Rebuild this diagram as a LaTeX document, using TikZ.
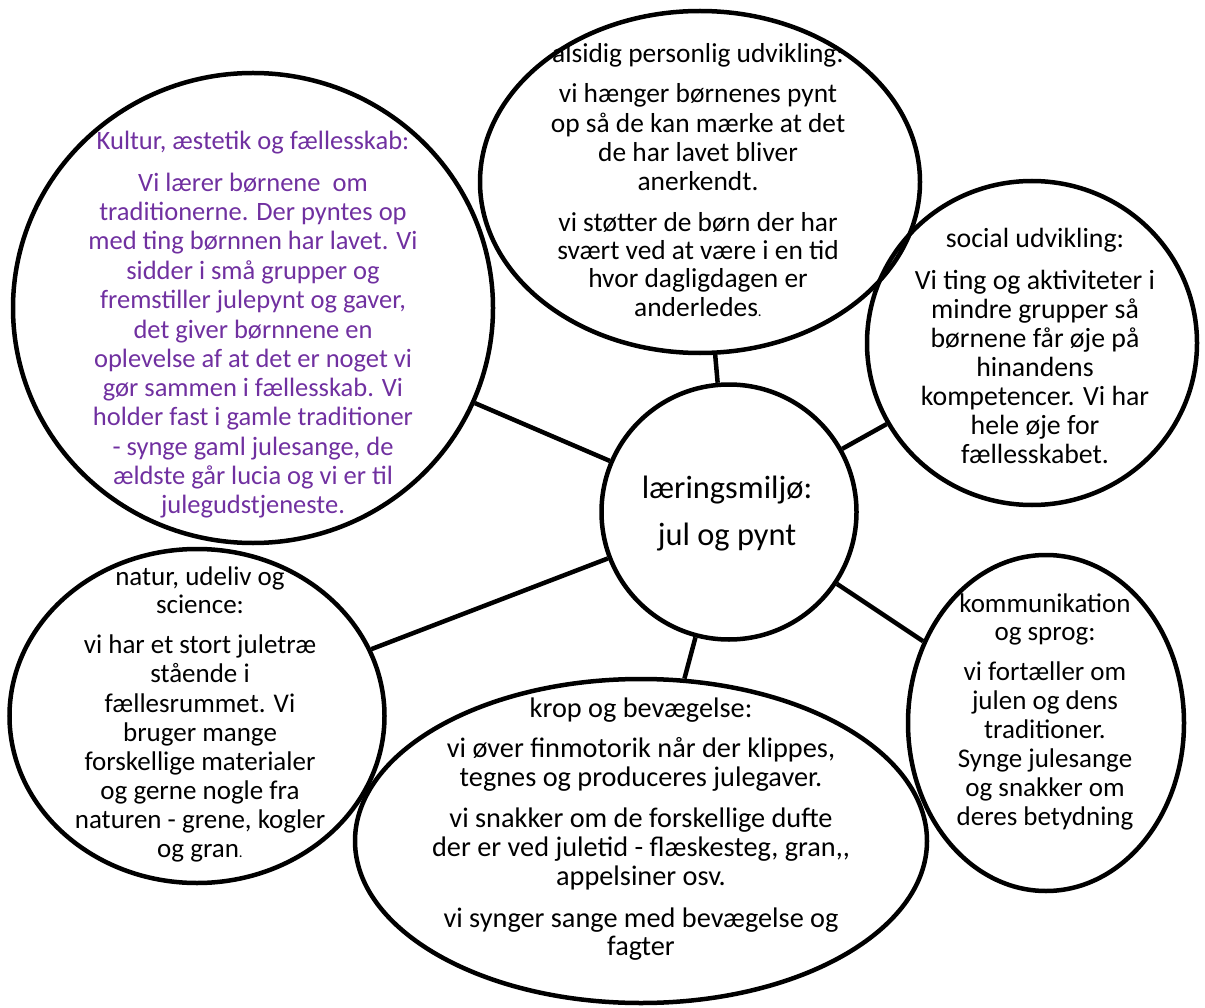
\documentclass[tikz,border=0pt]{standalone}
\usepackage{fontspec}
\setmainfont{Carlito}
\usetikzlibrary{shapes.geometric}
\definecolor{wordpurple}{RGB}{112,48,160}
\tikzset{
  bubble/.style={draw=black, line width=4.5pt, ellipse, inner sep=0pt},
  link/.style={draw=black, line width=4.5pt},
  body/.style={inner sep=0pt, anchor=base, font=\fontsize{#1}{29}\selectfont},
  body/.default=27,
  hub/.style={inner sep=0pt, anchor=base, font=\fontsize{32.4}{34}\selectfont},
}
\newcommand{\smalldot}{{\fontsize{15}{15}\selectfont .}}
\begin{document}
\begin{tikzpicture}[x=1pt,y=-1pt]
\useasboundingbox (0,0) rectangle (1205,1008);
% bubbles
\node[bubble, minimum width=255pt, minimum height=255pt] (hub) at (729,512) {};
\node[bubble, minimum width=440pt, minimum height=342pt] (top) at (700,182) {};
\node[bubble, minimum width=480pt, minimum height=470pt] (kult) at (253,308) {};
\node[bubble, minimum width=330pt, minimum height=324pt] (soc) at (1032,343) {};
\node[bubble, minimum width=375pt, minimum height=334pt] (nat) at (197,716) {};
\node[bubble, minimum width=572pt, minimum height=324pt] (krop) at (641,841) {};
\node[bubble, minimum width=276pt, minimum height=336pt] (komm) at (1046,723) {};
% connectors
\draw[link] (hub) -- (top);
\draw[link] (hub) -- (kult);
\draw[link] (hub) -- (soc);
\draw[link] (hub) -- (nat);
\draw[link] (hub) -- (krop);
\draw[link] (hub) -- (komm);
% hub text
\node[hub] (hub1) at (727,498) {læringsmiljø:};
\node[hub] (hub2) at (727,545) {jul og pynt};
% top text
\foreach \t/\y [count=\i] in {
  {alsidig personlig udvikling:}/63,
  {vi hænger børnenes pynt}/103,
  {op så de kan mærke at det}/133,
  {de har lavet bliver}/162,
  {anerkendt.}/191,
  {vi støtter de børn der har}/232,
  {svært ved at være i en tid}/260,
  {hvor dagligdagen er}/288,
  {anderledes\smalldot}/317}
  \node[body=27.4] (top\i) at (698,\y) {\t};
% kultur text
\foreach \t/\y [count=\i] in {
  {Kultur, æstetik og fællesskab:}/150,
  {Vi lærer børnene~ om}/192,
  {traditionerne. Der pyntes op}/221,
  {med ting børnnen har lavet. Vi}/250,
  {sidder i små grupper og}/280,
  {fremstiller julepynt og gaver,}/309,
  {det giver børnnene en}/338,
  {oplevelse af at det er noget vi}/367,
  {gør sammen i fællesskab. Vi}/396,
  {holder fast i gamle traditioner}/425,
  {- synge gaml julesange, de}/455,
  {ældste går lucia og vi er til}/484,
  {julegudstjeneste.}/513}
  \node[body=26.5, text=wordpurple] (kult\i) at (253,\y) {\t};
% social text
\foreach \t/\y [count=\i] in {
  {social udvikling:}/248,
  {Vi ting og aktiviteter i}/290,
  {mindre grupper så}/319,
  {børnene får øje på}/348,
  {hinandens}/377,
  {kompetencer. Vi har}/405,
  {hele øje for}/434,
  {fællesskabet.}/463}
  \node[body=27.8] (soc\i) at (1035,\y) {\t};
% natur text
\foreach \t/\y [count=\i] in {
  {natur, udeliv og}/585,
  {science:}/613,
  {vi har et stort juletræ}/653,
  {stående i}/682,
  {fællesrummet. Vi}/712,
  {bruger mange}/741,
  {forskellige materialer}/770,
  {og gerne nogle fra}/799,
  {naturen - grene, kogler}/828,
  {og gran\smalldot}/857}
  \node[body=27] (nat\i) at (200,\y) {\t};
% kommunikation text
\foreach \t/\y [count=\i] in {
  {kommunikation}/612,
  {og sprog:}/640,
  {vi fortæller om}/680,
  {julen og dens}/709,
  {traditioner.}/738,
  {Synge julesange}/767,
  {og snakker om}/796,
  {deres betydning}/825}
  \node[body=27] (komm\i) at (1045,\y) {\t};
% krop text
\foreach \t/\y [count=\i] in {
  {krop og bevægelse:}/717,
  {vi øver finmotorik når der klippes,}/757,
  {tegnes og produceres julegaver.}/786,
  {vi snakker om de forskellige dufte}/827,
  {der er ved juletid - flæskesteg, gran,{},}/856,
  {appelsiner osv.}/885,
  {vi synger sange med bevægelse og}/927,
  {fagter}/955}
  \node[body=28.3] (krop\i) at (641,\y) {\t};
\end{tikzpicture}
\end{document}
